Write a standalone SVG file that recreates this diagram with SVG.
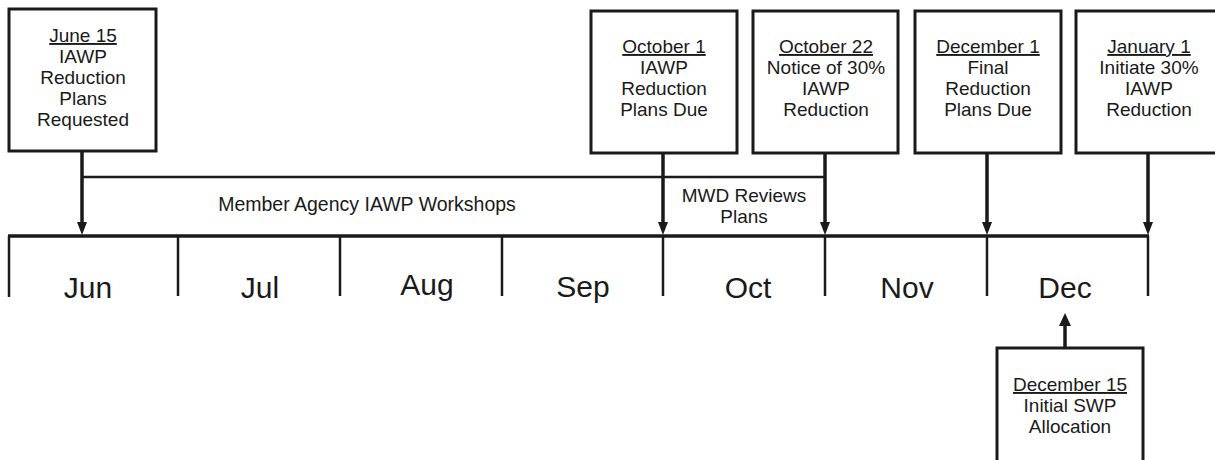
<svg xmlns="http://www.w3.org/2000/svg" width="1215" height="460" viewBox="0 0 1215 460">
<style>
.box{fill:#fff;stroke:#1a1a1a;stroke-width:3}
.ln{stroke:#1a1a1a;fill:none}
.t{font-family:"Liberation Sans",Arial,sans-serif;font-size:19px;fill:#1a1a1a;text-anchor:middle}
.u{text-decoration:underline}
.m{font-family:"Liberation Sans",Arial,sans-serif;font-size:30px;fill:#1a1a1a;text-anchor:middle}
</style>
<rect width="1215" height="460" fill="#fff"/>
<g id="connectors">
<line class="ln" x1="82" y1="177" x2="825" y2="177" stroke-width="2.5"/>
<line class="ln" x1="8" y1="236" x2="1149" y2="236" stroke-width="3.5"/>
<g stroke-width="2.5" class="ln">
<line x1="9" y1="236" x2="9" y2="297"/>
<line x1="178" y1="236" x2="178" y2="296"/>
<line x1="340" y1="236" x2="340" y2="296"/>
<line x1="502" y1="236" x2="502" y2="296"/>
<line x1="663" y1="236" x2="663" y2="296"/>
<line x1="825" y1="236" x2="825" y2="296"/>
<line x1="987" y1="236" x2="987" y2="296"/>
<line x1="1148" y1="236" x2="1148" y2="296"/>
</g>
<g stroke-width="3.5" class="ln">
<path d="M82,151 V222"/>
<path d="M663,153 V222"/>
<path d="M825,153 V222"/>
<path d="M987,153 V222"/>
<path d="M1148,153 V222"/>
<path d="M1065,348 V325"/>
</g>
<g fill="#1a1a1a">
<path d="M77,222 L87,222 L82,235 Z"/>
<path d="M658,222 L668,222 L663,235 Z"/>
<path d="M820,222 L830,222 L825,235 Z"/>
<path d="M982,222 L992,222 L987,235 Z"/>
<path d="M1143,222 L1153,222 L1148,235 Z"/>
<path d="M1059,326 L1071,326 L1065,313 Z"/>
</g>
</g>
<g id="n_jun15">
<rect class="box" x="9" y="9" width="147" height="142"/>
<text class="t" x="83" y="42"><tspan class="u">June 15</tspan><tspan x="83" dy="21">IAWP</tspan><tspan x="83" dy="21">Reduction</tspan><tspan x="83" dy="21">Plans</tspan><tspan x="83" dy="21">Requested</tspan></text>
</g>
<g id="n_oct1">
<rect class="box" x="591" y="11" width="146" height="142"/>
<text class="t" x="664" y="53"><tspan class="u">October 1</tspan><tspan x="664" dy="21">IAWP</tspan><tspan x="664" dy="21">Reduction</tspan><tspan x="664" dy="21">Plans Due</tspan></text>
</g>
<g id="n_oct22">
<rect class="box" x="753" y="11" width="145" height="142"/>
<text class="t" x="826" y="53"><tspan class="u">October 22</tspan><tspan x="826" dy="21">Notice of 30%</tspan><tspan x="826" dy="21">IAWP</tspan><tspan x="826" dy="21">Reduction</tspan></text>
</g>
<g id="n_dec1">
<rect class="box" x="915" y="11" width="146" height="142"/>
<text class="t" x="988" y="53"><tspan class="u">December 1</tspan><tspan x="988" dy="21">Final</tspan><tspan x="988" dy="21">Reduction</tspan><tspan x="988" dy="21">Plans Due</tspan></text>
</g>
<g id="n_jan1">
<rect class="box" x="1076" y="11" width="146" height="142"/>
<text class="t" x="1149" y="53"><tspan class="u">January 1</tspan><tspan x="1149" dy="21">Initiate 30%</tspan><tspan x="1149" dy="21">IAWP</tspan><tspan x="1149" dy="21">Reduction</tspan></text>
</g>
<g id="n_dec15">
<rect class="box" x="997" y="348" width="146" height="130"/>
<text class="t" x="1070" y="391"><tspan class="u">December 15</tspan><tspan x="1070" dy="21">Initial SWP</tspan><tspan x="1070" dy="21">Allocation</tspan></text>
</g>
<g id="labels">
<text class="t" x="367" y="211" style="font-size:19.5px">Member Agency IAWP Workshops</text>
<text class="t" x="744" y="202">MWD Reviews</text>
<text class="t" x="744" y="223">Plans</text>
</g>
<g id="months">
<text class="m" x="88" y="298">Jun</text>
<text class="m" x="260" y="298">Jul</text>
<text class="m" x="427" y="295">Aug</text>
<text class="m" x="583" y="297">Sep</text>
<text class="m" x="748" y="298">Oct</text>
<text class="m" x="907" y="298">Nov</text>
<text class="m" x="1065" y="298">Dec</text>
</g>
</svg>
